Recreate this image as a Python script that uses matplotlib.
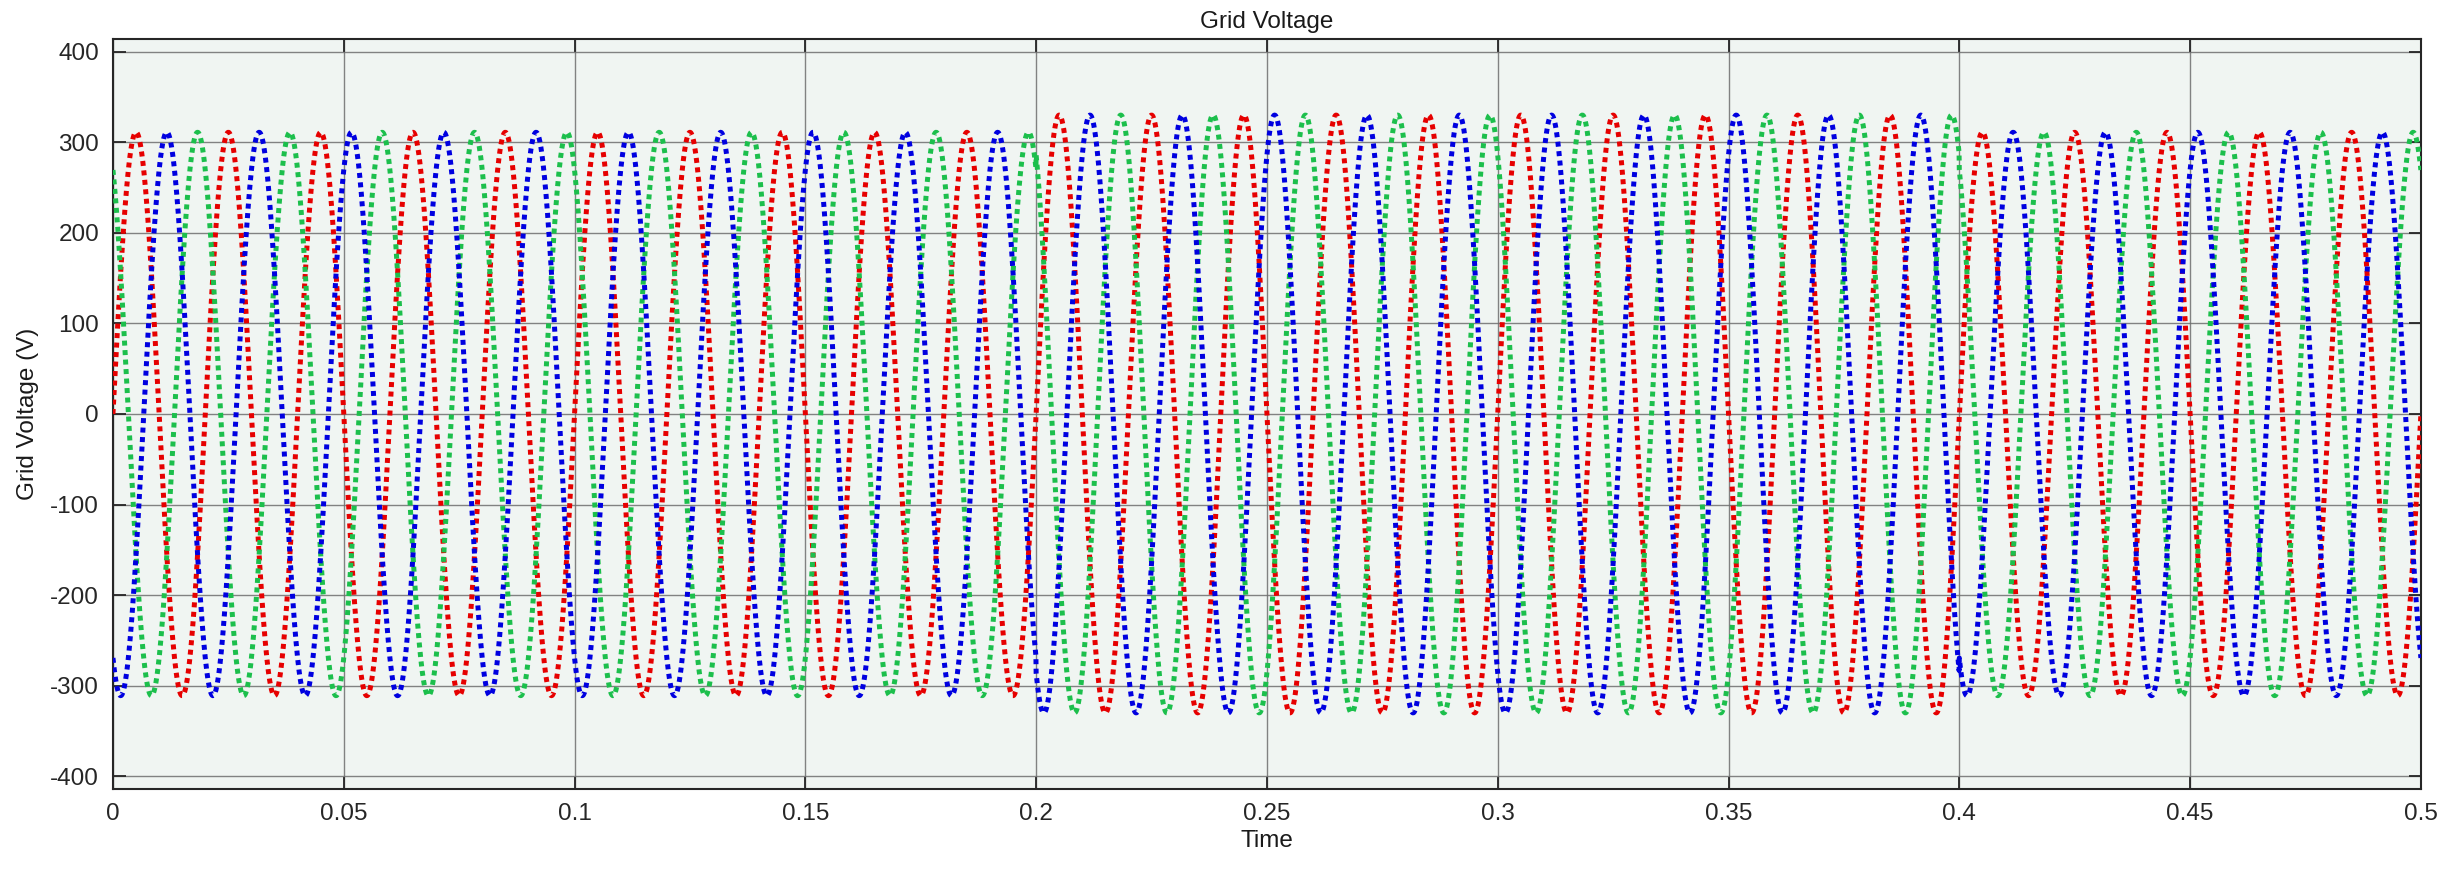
import numpy as np
import matplotlib.pyplot as plt

plt.rcParams['font.family'] = ['Liberation Sans', 'DejaVu Sans']
plt.rcParams['axes.unicode_minus'] = False

# values
f_grid = 50.0                        # Hz, 25 cycles in 0.5 s
seg_edges = [0.0, 0.2, 0.4, 0.5]     # s, amplitude changes at 0.2 and 0.4
seg_peak = [311.0, 330.0, 311.0]     # V peak per segment
phase_deg = [0.0, 120.0, -120.0]     # red, green, blue
phase_col = ['#e60000', '#1cbf4c', '#0000e0']
xticks = [0, 0.05, 0.1, 0.15, 0.2, 0.25, 0.3, 0.35, 0.4, 0.45, 0.5]
xticklabels = ['0', '0.05', '0.1', '0.15', '0.2', '0.25', '0.3', '0.35', '0.4', '0.45', '0.5']
yticks = [-400, -300, -200, -100, 0, 100, 200, 300, 400]

# simulation time base (sample step 50 us)
t = np.arange(0, 0.5 + 1e-9, 5e-5)
amp = np.zeros_like(t)
for i in range(len(seg_peak)):
    m = (t >= seg_edges[i]) & (t <= seg_edges[i + 1])
    amp[m] = seg_peak[i]

fig = plt.figure(figsize=(24.61, 8.72), dpi=100)
ax = fig.add_axes([0.0459, 0.0952, 0.9378, 0.8601])
ax.set_facecolor('#f0f5f2')

for ph, c in zip(phase_deg, phase_col):
    v = amp * np.sin(2 * np.pi * f_grid * t + np.deg2rad(ph))
    ax.plot(t, v, color=c, lw=3.6, linestyle=(0, (1, 0.9)), zorder=3)

ax.set_xlim(0, 0.5)
ax.set_ylim(-414, 414)
ax.set_xticks(xticks)
ax.set_xticklabels(xticklabels)
ax.set_yticks(yticks)
ax.grid(True, color='#6e6e6e', lw=1.0, alpha=0.85, zorder=1)
ax.set_axisbelow(True)

ax.tick_params(direction='in', length=9, width=1.3, colors='#262626',
               labelsize=17.5, top=True, right=True, pad=10)
for s in ax.spines.values():
    s.set_color('#262626')
    s.set_linewidth(1.5)

ax.set_title('Grid Voltage', fontsize=17.5, color='#1a1a1a', pad=8)
ax.set_xlabel('Time', fontsize=17.5, color='#1a1a1a', labelpad=4)
ax.set_ylabel('Grid Voltage (V)', fontsize=17.5, color='#1a1a1a', labelpad=8)

fig.savefig('out.png', dpi=100)
